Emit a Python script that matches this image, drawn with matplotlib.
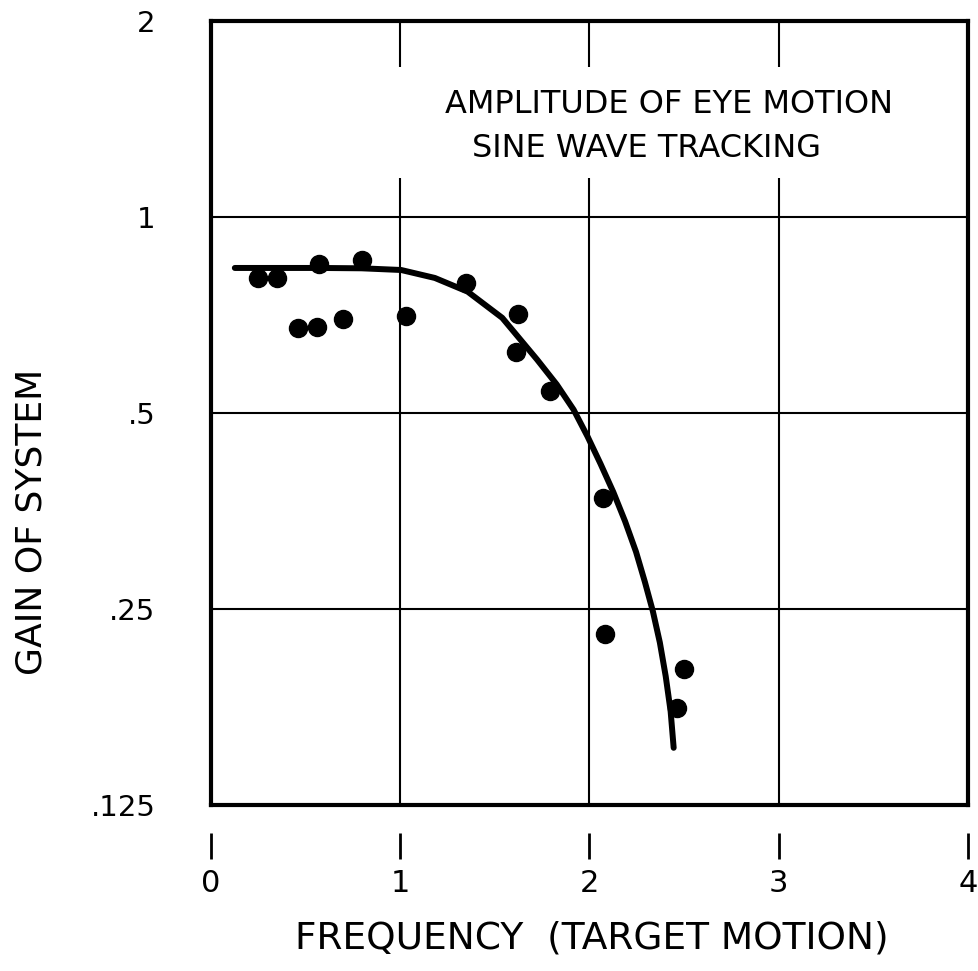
import matplotlib
matplotlib.use("Agg")
import matplotlib.pyplot as plt
from matplotlib.ticker import NullLocator

plt.rcParams["font.family"] = ["DejaVu Sans"]

# measured gain points
frecuencia = [0.25, 0.35, 0.57, 0.80, 0.46, 0.56, 0.70, 1.03, 1.35,
              1.62, 1.61, 1.79, 2.07, 2.08, 2.50, 2.46]
ganancia = [0.806, 0.806, 0.847, 0.859, 0.675, 0.678, 0.697, 0.705, 0.792,
            0.710, 0.620, 0.541, 0.370, 0.229, 0.202, 0.176]

# hand-drawn fitted curve, read point by point
curva_x = [0.126, 0.571, 0.796, 1.005, 1.183, 1.356, 1.539, 1.723, 1.827, 1.916, 1.990,
           2.058, 2.126, 2.188, 2.246, 2.293, 2.335, 2.372, 2.403, 2.429, 2.445]
curva_y = [0.835, 0.835, 0.834, 0.829, 0.806, 0.768, 0.700, 0.604, 0.553, 0.506, 0.460,
           0.418, 0.378, 0.341, 0.306, 0.275, 0.248, 0.222, 0.197, 0.174, 0.153]

x_ticks = [0, 1, 2, 3, 4]
x_labels = ["0", "1", "2", "3", "4"]
y_ticks = [0.125, 0.25, 0.5, 1, 2]
y_labels = [".125", ".25", ".5", "1", "2"]

fig = plt.figure(figsize=(9.79, 9.71), dpi=100)
ax = fig.add_axes([0.2155, 0.171, 0.7732, 0.8074])

ax.set_yscale("log", base=2)
ax.set_xlim(0, 4)
ax.set_ylim(0.125, 2)

# grid lines (vertical ones are broken where the title sits)
for y in [0.25, 0.5, 1]:
    ax.axhline(y, color="black", lw=1.5, zorder=1)
ax.vlines([1, 2, 3], 0.125, 1.148, color="black", lw=1.5, zorder=1)
ax.vlines([1, 2, 3], 1.70, 2, color="black", lw=1.5, zorder=1)

ax.plot(curva_x, curva_y, color="black", lw=4.3, solid_capstyle="round",
        solid_joinstyle="round", zorder=3)
ax.plot(frecuencia, ganancia, "o", color="black", markersize=13, zorder=4)

ax.text(2.42, 1.486, "AMPLITUDE OF EYE MOTION", ha="center", va="center", fontsize=23)
ax.text(2.30, 1.276, "SINE WAVE TRACKING", ha="center", va="center", fontsize=23)

# frame
for lado in ["top", "left", "right"]:
    ax.spines[lado].set_linewidth(3)
ax.axhline(0.125, color="black", lw=3, clip_on=False, zorder=5)

# detached tick bars under the frame
ax.spines["bottom"].set_position(("outward", 39))
ax.spines["bottom"].set_visible(False)
ax.set_xticks(x_ticks)
ax.set_xticklabels(x_labels, fontsize=22)
ax.tick_params(axis="x", direction="in", length=19, width=2, pad=7)

ax.yaxis.set_minor_locator(NullLocator())
ax.set_yticks(y_ticks)
ax.set_yticklabels(y_labels, fontsize=21)
ax.tick_params(axis="y", length=0, pad=40)

fig.text(592 / 979, 1 - 938 / 971, "FREQUENCY  (TARGET MOTION)",
         ha="center", va="center", fontsize=27)
fig.text(32 / 979, 1 - 522 / 971, "GAIN OF SYSTEM", rotation=90,
         ha="center", va="center", fontsize=26)

plt.savefig("out.png", dpi=100)
plt.close()
